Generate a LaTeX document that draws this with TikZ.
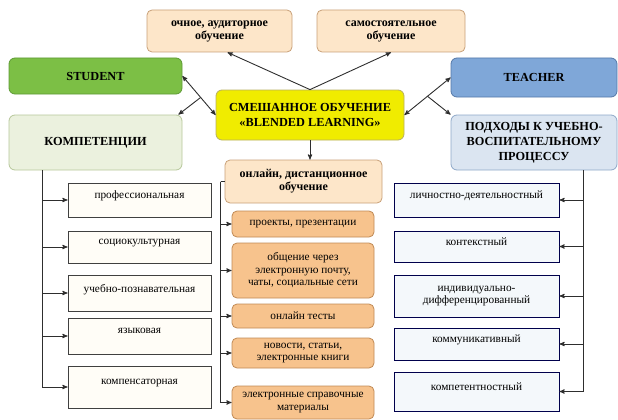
\documentclass[tikz,border=0pt]{standalone}
\usepackage{fontspec}
\setmainfont{Liberation Serif}
\usepackage{xcolor}
\usepackage{tikz}
\usetikzlibrary{arrows,positioning}
\definecolor{peach}{HTML}{FDE6C9}
\definecolor{peachline}{HTML}{C8A078}
\definecolor{orangebox}{HTML}{F7C38D}
\definecolor{orangeline}{HTML}{C08A55}
\definecolor{mixyellow}{HTML}{F0EC00}
\definecolor{mixline}{HTML}{B8B060}
\definecolor{stgreen}{HTML}{7CBF45}
\definecolor{stline}{HTML}{5E9A35}
\definecolor{tcblue}{HTML}{7FA7D8}
\definecolor{tcline}{HTML}{5478A8}
\definecolor{kompgreen}{HTML}{EBF1DE}
\definecolor{kompline}{HTML}{B6C79A}
\definecolor{podblue}{HTML}{DBE5F1}
\definecolor{podline}{HTML}{8EA8C8}
\definecolor{cream}{HTML}{FFFDF7}
\definecolor{paleblue}{HTML}{F4F8FB}
\definecolor{wire}{HTML}{2E2E2E}
\tikzset{>=stealth'}
\tikzset{top node/.style={rectangle,rounded corners=5pt,draw=peachline,fill=peach,thick,font=\bfseries\fontsize{12}{13}\selectfont,align=center,inner sep=2pt},
         head node/.style={rectangle,rounded corners=6pt,thick,font=\bfseries\fontsize{12.3}{15}\selectfont,align=center,inner sep=2pt},
         comp item/.style={rectangle,draw=black!75,fill=cream,thick,minimum width=143pt,font=\fontsize{11.3}{12.5}\selectfont,align=center,text depth=10pt},
         form item/.style={rectangle,rounded corners=5pt,draw=orangeline,fill=orangebox,thick,minimum width=142pt,font=\fontsize{11.3}{12.5}\selectfont,align=center,inner sep=1pt},
         appr item/.style={rectangle,draw=black!70!blue,fill=paleblue,thick,minimum width=165pt,font=\fontsize{11.3}{12.5}\selectfont,align=center,text depth=10pt},
         elbow/.style={to path={|- (\tikztotarget)}},
            }
\begin{document}
\begin{tikzpicture}[x=1pt,y=-1pt]
    \useasboundingbox (0,0) rectangle (618,420);

    \node[top node,minimum width=145pt,minimum height=42pt] (ochn) at (219.5,31) {очное, аудиторное\\обучение};
    \node[top node,minimum width=148pt,minimum height=42pt] (samost) at (391,31) {самостоятельное\\обучение};

    \node[head node,draw=stline,fill=stgreen,minimum width=173pt,minimum height=36pt] (student) at (95.5,76) {STUDENT};
    \node[head node,draw=mixline,fill=mixyellow,minimum width=188pt,minimum height=50pt] (mixed) at (310,115) {СМЕШАННОЕ ОБУЧЕНИЕ\\«BLENDED LEARNING»};
    \node[head node,draw=tcline,fill=tcblue,minimum width=166pt,minimum height=39pt] (teacher) at (534,77.5) {TEACHER};
    \node[head node,draw=kompline,fill=kompgreen,minimum width=173pt,minimum height=55pt] (komp) at (95.5,142.5) {КОМПЕТЕНЦИИ};
    \node[head node,draw=podline,fill=podblue,minimum width=166pt,minimum height=55pt] (podkh) at (534,142.5) {ПОДХОДЫ К УЧЕБНО-\\ВОСПИТАТЕЛЬНОМУ\\ПРОЦЕССУ};
    \node[top node,minimum width=157pt,minimum height=43pt] (online) at (303.5,181.5) {онлайн, дистанционное\\обучение};

    % компетенции
    \node[comp item,minimum height=34pt] (prof) at (139.5,200) {профессиональная};
    \node[comp item,minimum height=32pt] (socio) at (139.5,247) {социокультурная};
    \node[comp item,minimum height=36pt] (uchpozn) at (139.5,293) {учебно-познавательная};
    \node[comp item,minimum height=36pt] (yazyk) at (139.5,336) {языковая};
    \node[comp item,minimum height=42pt] (kompens) at (139.5,387) {компенсаторная};

    % формы
    \node[form item,minimum height=26pt] (proj) at (303,224) {проекты, презентации};
    \node[form item,minimum height=55pt] (obsch) at (303,270.5) {общение через\\электронную почту,\\чаты, социальные сети};
    \node[form item,minimum height=24pt] (tests) at (303,316) {онлайн тесты};
    \node[form item,minimum height=30pt] (news) at (303,353) {новости, статьи,\\электронные книги};
    \node[form item,minimum height=33pt] (sprav) at (303,402.5) {электронные справочные\\материалы};

    % подходы
    \node[appr item,minimum height=34pt] (lichn) at (476.5,200) {личностно-деятельностный};
    \node[appr item,minimum height=31pt] (kontext) at (476.5,246.5) {контекстный};
    \node[appr item,minimum height=42pt,text depth=2pt] (indiv) at (476.5,296) {индивидуально-\\дифференцированный};
    \node[appr item,minimum height=32pt] (kommun) at (476.5,344) {коммуникативный};
    \node[appr item,minimum height=39pt] (kompet) at (476.5,391.5) {компетентностный};

    \coordinate (lbus) at ([xshift=34pt]komp.south west);
    \coordinate (mbus) at ([xshift=-4pt]online.west);
    \coordinate (rbus) at ([xshift=-34pt]podkh.south east);

    \path[wire,line width=.9pt,->]
    (mixed.north) edge ([xshift=8pt]ochn.south)
    (mixed.north) edge (samost.south)
    (mixed.south) edge (mixed.south |- online.north);

    \draw[wire,line width=.9pt,<->] (student.east) -- coordinate[pos=.55] (lsplit) (mixed.west);
    \draw[wire,line width=.9pt,->] (lsplit) -- ([xshift=-4pt]komp.north east);
    \draw[wire,line width=.9pt,<->] (mixed.east) -- coordinate[pos=.5] (rsplit) (teacher.west);
    \draw[wire,line width=.9pt,->] (rsplit) -- (podkh.north west);

    \path[wire,line width=.9pt,->]
    (lbus) edge[elbow] (prof)
    (lbus) edge[elbow] (socio)
    (lbus) edge[elbow] (uchpozn)
    (lbus) edge[elbow] (yazyk)
    (lbus) edge[elbow] (kompens);

    \draw[wire,line width=.9pt] (online.west) -- (mbus);
    \path[wire,line width=.9pt,->]
    (mbus) edge[elbow] (proj)
    (mbus) edge[elbow] (obsch)
    (mbus) edge[elbow] (tests)
    (mbus) edge[elbow] (news)
    (mbus) edge[elbow] (sprav);

    \path[wire,line width=.9pt,->]
    (rbus) edge[elbow] (lichn)
    (rbus) edge[elbow] (kontext)
    (rbus) edge[elbow] (indiv)
    (rbus) edge[elbow] (kommun)
    (rbus) edge[elbow] (kompet);

\end{tikzpicture}
\end{document}
